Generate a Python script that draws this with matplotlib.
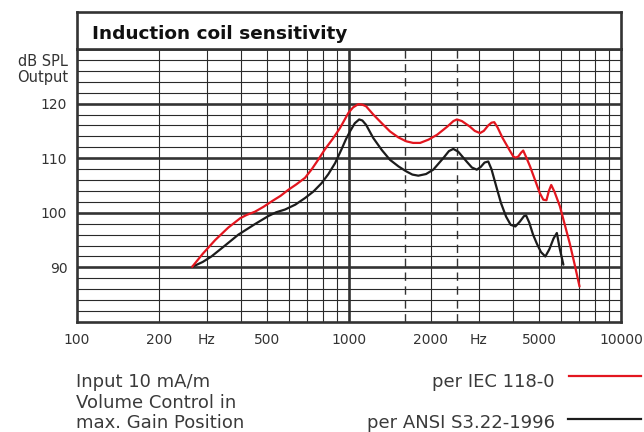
import matplotlib
matplotlib.use("Agg")
import matplotlib.pyplot as plt
from matplotlib.lines import Line2D

# IEC 118-0 curve (Hz, dB SPL)
iec_freq = [265, 290, 322, 360, 398, 420, 451, 485, 520, 560, 598, 640, 689, 730,
            770, 815, 870, 926, 960, 995, 1035, 1082, 1120, 1156, 1228, 1320, 1415,
            1520, 1622, 1720, 1826, 1960, 2109, 2300, 2420, 2493, 2600, 2780, 2900,
            3030, 3130, 3250, 3340, 3420, 3520, 3670, 3890, 4020, 4100, 4190, 4290,
            4370, 4480, 4630, 4830, 5030, 5180, 5320, 5430, 5540, 5700, 5960, 6200,
            6480, 6750, 7040]
iec_db = [90.1, 92.5, 95.0, 97.3, 99.0, 99.6, 100.2, 101.1, 102.1, 103.1, 104.2,
          105.2, 106.4, 108.0, 109.7, 111.6, 113.5, 115.5, 116.9, 118.3, 119.3,
          119.9, 119.8, 119.5, 118.0, 116.4, 114.9, 113.8, 113.1, 112.8, 112.8,
          113.4, 114.3, 115.8, 116.8, 117.1, 116.8, 115.8, 115.0, 114.6, 115.0,
          116.0, 116.5, 116.6, 115.6, 113.7, 111.5, 110.3, 110.1, 110.3, 111.0,
          111.4, 110.2, 108.5, 106.0, 103.6, 102.4, 102.3, 104.0, 105.1, 103.8,
          101.2, 98.0, 94.4, 90.6, 86.5]

# ANSI S3.22-1996 curve
ansi_freq = [265, 290, 312, 350, 392, 450, 505, 540, 582, 635, 689, 740, 792, 840,
             889, 938, 975, 1011, 1050, 1090, 1120, 1156, 1228, 1320, 1415, 1520,
             1622, 1710, 1798, 1920, 2041, 2220, 2330, 2418, 2520, 2705, 2830, 2950,
             3050, 3150, 3250, 3340, 3480, 3620, 3780, 3930, 4090, 4250, 4400, 4480,
             4600, 4750, 4900, 5080, 5270, 5450, 5650, 5810, 5950, 6140]
ansi_db = [90.1, 91.0, 92.0, 94.0, 96.0, 97.9, 99.4, 100.1, 100.6, 101.5, 102.7,
           103.9, 105.4, 107.1, 109.1, 111.6, 113.5, 115.0, 116.4, 117.1, 116.9,
           116.1, 113.7, 111.5, 109.7, 108.5, 107.6, 107.0, 106.8, 107.1, 107.9,
           110.0, 111.3, 111.7, 111.2, 109.4, 108.3, 107.9, 108.4, 109.2, 109.4,
           108.0, 104.8, 101.8, 99.3, 97.8, 97.5, 98.4, 99.4, 99.5, 98.2, 96.0,
           94.4, 92.8, 92.0, 93.3, 95.3, 96.3, 93.5, 90.5]

xtick_pos = [100, 200, 300, 500, 1000, 2000, 3000, 5000, 10000]
xtick_lab = ["100", "200", "Hz", "500", "1000", "2000", "Hz", "5000", "10000"]
ytick_pos = [90, 100, 110, 120]

W, H = 644, 432
L, R, T, B, TT = 77, 621, 49, 322, 12
frame = "#333333"
red = "#e3161f"
blk = "#1c1c1c"

plt.rcParams['font.family'] = ['DejaVu Sans']

fig = plt.figure(figsize=(W / 100, H / 100), dpi=100)
ax = fig.add_axes([L / W, 1 - B / H, (R - L) / W, (B - T) / H])
ax.set_xscale("log")
ax.set_xlim(100, 10000)
ax.set_ylim(80, 130)

# grid
minor_x = [f * d for d in (100, 1000) for f in range(2, 10)]
for f in minor_x:
    ax.axvline(f, color="#2a2a2a", lw=0.8, zorder=1)
ax.axvline(1000, color=frame, lw=1.9, zorder=1)
for f in (1600, 2500):
    ax.axvline(f, color=frame, lw=1.0, dashes=(6, 4), zorder=1)
for y in range(82, 130, 2):
    if y in ytick_pos:
        ax.axhline(y, color=frame, lw=1.9, zorder=1)
    else:
        ax.axhline(y, color="#2a2a2a", lw=0.8, zorder=1)

ax.plot(ansi_freq, ansi_db, color=blk, lw=1.6, zorder=3,
        solid_joinstyle="round", solid_capstyle="round")
ax.plot(iec_freq, iec_db, color=red, lw=1.6, zorder=3,
        solid_joinstyle="round", solid_capstyle="round")

ax.set_xticks(xtick_pos)
ax.set_xticklabels(xtick_lab)
ax.xaxis.set_minor_locator(matplotlib.ticker.NullLocator())
ax.set_yticks(ytick_pos)
ax.set_yticklabels([str(v) for v in ytick_pos])
ax.tick_params(length=0, labelsize=10, colors="#333333")
ax.tick_params(axis="x", pad=8)
ax.tick_params(axis="y", pad=7)
for s in ax.spines.values():
    s.set_linewidth(1.9)
    s.set_color(frame)

# title band
tax = fig.add_axes([L / W, 1 - T / H, (R - L) / W, (T - TT) / H])
tax.set_xticks([])
tax.set_yticks([])
for s in tax.spines.values():
    s.set_linewidth(1.9)
    s.set_color(frame)
tax.text(0.027, 0.26, "Induction coil sensitivity", fontsize=13.3, fontweight="bold",
         color="#111111", va="baseline", transform=tax.transAxes)

fig.text(68 / W, 1 - 69.5 / H, "dB SPL\nOutput", ha="right", va="center",
         fontsize=10.5, linespacing=1.1, color="#333333")

# notes and legend
txt = "#3a3a3a"
fig.text(76 / W, 1 - 386.7 / H, "Input 10 mA/m", fontsize=13, color=txt, va="baseline")
fig.text(76 / W, 1 - 408.3 / H, "Volume Control in", fontsize=13, color=txt, va="baseline")
fig.text(76 / W, 1 - 427.7 / H, "max. Gain Position", fontsize=13, color=txt, va="baseline")
fig.text(555 / W, 1 - 386.7 / H, "per IEC 118-0", fontsize=13, color=txt,
         ha="right", va="baseline")
fig.text(555 / W, 1 - 428.3 / H, "per ANSI S3.22-1996", fontsize=13, color=txt,
         ha="right", va="baseline")
fig.add_artist(Line2D([569 / W, 641 / W], [1 - 375.7 / H] * 2, color=red, lw=1.6,
                      transform=fig.transFigure))
fig.add_artist(Line2D([568 / W, 641 / W], [1 - 419.3 / H] * 2, color=blk, lw=1.6,
                      transform=fig.transFigure))

fig.savefig("out.png", dpi=100)
